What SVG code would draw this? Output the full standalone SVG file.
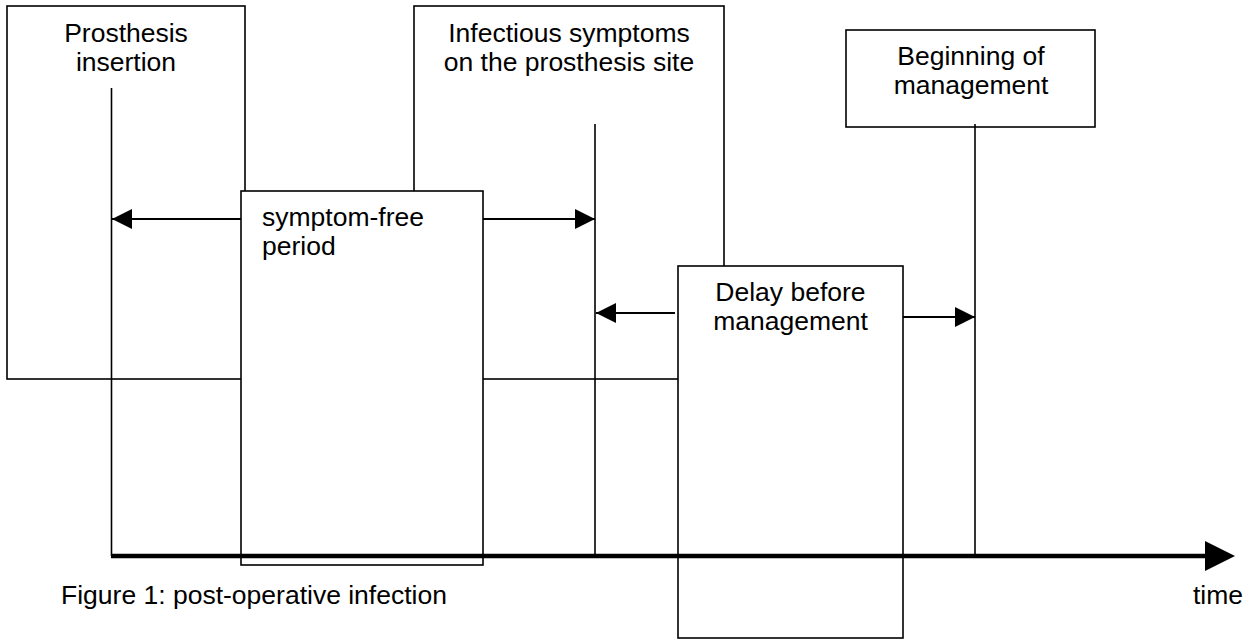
<svg xmlns="http://www.w3.org/2000/svg" width="1254" height="640" viewBox="0 0 1254 640">
<style>
.box{fill:#fff;stroke:#000;stroke-width:1.6}
.t{font-family:"Liberation Sans",Arial,sans-serif;font-size:26.5px;fill:#000}
.c{text-anchor:middle}
.ln{stroke:#000;stroke-width:1.6;fill:none}
.ar{stroke:#000;stroke-width:1.8;fill:none;marker-end:url(#ah)}
.axis{stroke:#000;stroke-width:4.5;fill:none;marker-end:url(#ahBig)}
</style>
<defs>
<marker id="ah" markerUnits="userSpaceOnUse" markerWidth="20" markerHeight="20" refX="20" refY="10" orient="auto" overflow="visible">
<path d="M0,0 L20,10 L0,20 Z" fill="#000"/>
</marker>
<marker id="ahBig" markerUnits="userSpaceOnUse" markerWidth="30" markerHeight="30" refX="0" refY="15" orient="auto" overflow="visible">
<path d="M0,0 L30,15 L0,30 Z" fill="#000"/>
</marker>
</defs>
<rect width="1254" height="640" fill="#fff"/>
<g id="prosthesis-insertion">
<rect class="box" x="7" y="6" width="238" height="373"/>
<text class="t c" x="126" y="42">Prosthesis</text>
<text class="t c" x="126" y="71">insertion</text>
</g>
<g id="infectious-symptoms">
<rect class="box" x="414" y="6" width="310" height="373"/>
<text class="t c" x="569" y="42">Infectious symptoms</text>
<text class="t c" x="569" y="71">on the prosthesis site</text>
</g>
<g id="symptom-free-period">
<rect class="box" x="241" y="191" width="242" height="374"/>
<text class="t" x="262" y="226">symptom-free</text>
<text class="t" x="262" y="255">period</text>
</g>
<g id="delay-before-management">
<rect class="box" x="678" y="266" width="225" height="372"/>
<text class="t c" x="790.5" y="301">Delay before</text>
<text class="t c" x="790.5" y="330">management</text>
</g>
<g id="beginning-of-management">
<rect class="box" x="846" y="30" width="249" height="97"/>
<text class="t c" x="971" y="65">Beginning of</text>
<text class="t c" x="971" y="94">management</text>
</g>
<g id="connectors">
<line class="ln" x1="111.5" y1="88" x2="111.5" y2="556"/>
<line class="ln" x1="595" y1="124" x2="595" y2="556"/>
<line class="ln" x1="975" y1="124" x2="975" y2="556"/>
<line class="ar" x1="241" y1="219" x2="112" y2="219"/>
<line class="ar" x1="483" y1="219" x2="595" y2="219"/>
<line class="ar" x1="675" y1="313" x2="596" y2="313"/>
<line class="ar" x1="903" y1="317" x2="975" y2="317"/>
<line class="axis" x1="111" y1="556" x2="1205" y2="556"/>
</g>
<g id="captions">
<text class="t" x="61" y="604">Figure 1: post-operative infection</text>
<text class="t" x="1193" y="604">time</text>
</g>
</svg>
